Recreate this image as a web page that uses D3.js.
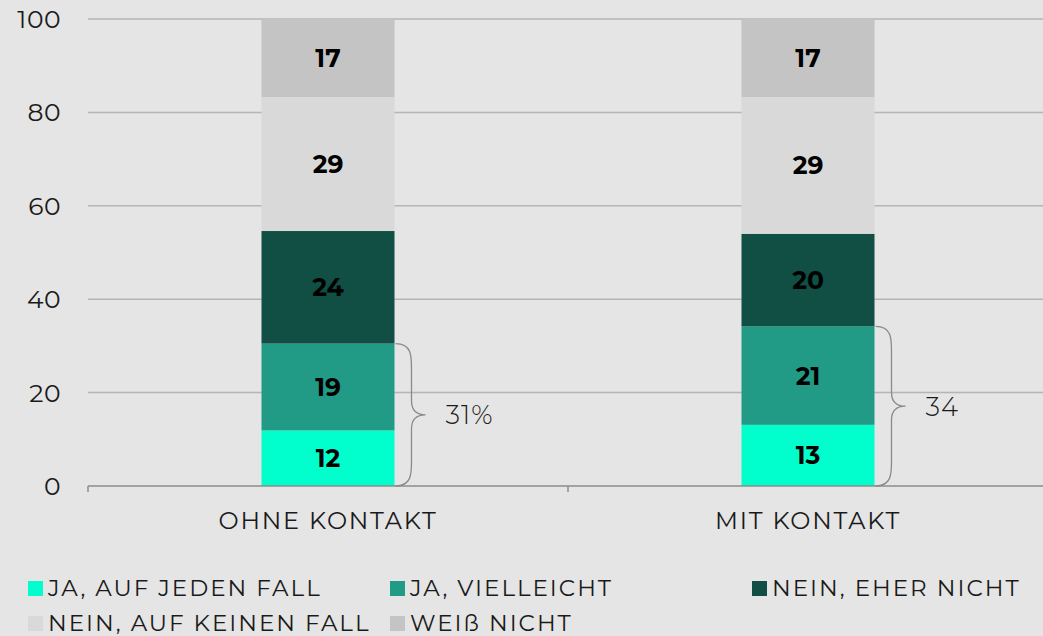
<!DOCTYPE html>
<html>
<head>
<meta charset="utf-8">
<script src="https://cdn.jsdelivr.net/npm/d3@7"></script>
<style>
  body { margin: 0; background: #e5e5e5; }
  svg { display: block; }
  text { font-family: "Montserrat", "Open Sans", sans-serif; fill: #1a1a1a; }
</style>
</head>
<body>
<div id="chart"></div>
<script>
var w = 1043;
var h = 636;

var margin = { top: 19, bottom: 150, left: 88, right: -5 };
var width = w - margin.left - margin.right;
var height = h - margin.top - margin.bottom;

// data
var categories = ["OHNE KONTAKT", "MIT KONTAKT"];
var series = ["JA, AUF JEDEN FALL", "JA, VIELLEICHT", "NEIN, EHER NICHT", "NEIN, AUF KEINEN FALL", "WEIß NICHT"];
var colors = ["#00ffcc", "#219b86", "#114e44", "#d9d9d9", "#c4c4c4"];
var ohneKontakt = [11.9, 18.6, 24.1, 28.7, 16.7];
var mitKontakt = [13.1, 21.1, 19.8, 29.3, 16.7];
var braceLabels = ["31%", "34"];
var yTicks = [0, 20, 40, 60, 80, 100];

var values = [ohneKontakt, mitKontakt];
var rows = categories.map(function (c, i) {
  var row = { cat: c };
  series.forEach(function (s, j) { row[s] = values[i][j]; });
  return row;
});
var stacked = d3.stack().keys(series)(rows);

var x = d3.scaleBand().domain(categories).range([0, width]);
var y = d3.scaleLinear().domain([0, 100]).range([height, 0]);
var color = d3.scaleOrdinal().domain(series).range(colors);
var barW = 133;

var svg = d3.select("#chart").append("svg")
  .attr("width", w)
  .attr("height", h);

var chart = svg.append("g").attr("transform", "translate(" + margin.left + "," + margin.top + ")");

// gridlines
chart.append("g")
  .selectAll("line")
  .data(yTicks.filter(function (d) { return d > 0; }))
  .join("line")
  .attr("x1", 0).attr("x2", width)
  .attr("y1", function (d) { return y(d); })
  .attr("y2", function (d) { return y(d); })
  .style("stroke", "#b5b5b5")
  .style("stroke-width", 1.5);

// y labels
chart.append("g")
  .selectAll("text")
  .data(yTicks)
  .join("text")
  .attr("x", -27)
  .attr("y", function (d) { return y(d); })
  .attr("dy", "0.36em")
  .attr("text-anchor", "end")
  .style("font-size", "25px")
  .style("letter-spacing", "0.5px")
  .text(function (d) { return d; });

// bars
var layers = chart.append("g").selectAll("g")
  .data(stacked)
  .join("g")
  .style("fill", function (d) { return color(d.key); });

layers.selectAll("rect")
  .data(function (d) { return d; })
  .join("rect")
  .attr("x", function (d) { return x(d.data.cat) + x.bandwidth() / 2 - barW / 2; })
  .attr("width", barW)
  .attr("y", function (d) { return y(d[1]); })
  .attr("height", function (d) { return y(d[0]) - y(d[1]); });

layers.selectAll("text")
  .data(function (d) { return d; })
  .join("text")
  .attr("x", function (d) { return x(d.data.cat) + x.bandwidth() / 2; })
  .attr("y", function (d) { return (y(d[0]) + y(d[1])) / 2; })
  .attr("dy", "0.36em")
  .attr("text-anchor", "middle")
  .style("font-size", "25px")
  .style("font-weight", "bold")
  .style("fill", "#000")
  .text(function (d) { return d3.format(".0f")(d[1] - d[0]); });

// x axis
var xAxis = chart.append("g")
  .attr("transform", "translate(0," + height + ")");
xAxis.append("line")
  .attr("x1", 0).attr("x2", width)
  .style("stroke", "#8c8c8c").style("stroke-width", 1.5);
xAxis.selectAll("line.tick")
  .data([0, x.step()])
  .join("line")
  .attr("class", "tick")
  .attr("x1", function (d) { return d; }).attr("x2", function (d) { return d; })
  .attr("y1", 0).attr("y2", 6)
  .style("stroke", "#8c8c8c").style("stroke-width", 1.5);
xAxis.selectAll("text")
  .data(categories)
  .join("text")
  .attr("x", function (d) { return x(d) + x.bandwidth() / 2; })
  .attr("y", 43)
  .attr("text-anchor", "middle")
  .style("font-size", "24px")
  .style("letter-spacing", "1.8px")
  .text(function (d) { return d; });

// braces for the two "ja" segments
categories.forEach(function (c, i) {
  var x0 = x(c) + x.bandwidth() / 2 + barW / 2 + 1;
  var yb = y(0);
  var yt = y(values[i][0] + values[i][1]);
  var ym = (yb + yt) / 2;
  var dx = 16, tip = 30;
  var p = "M" + x0 + "," + yt +
    " C" + (x0 + dx) + "," + yt + " " + (x0 + dx) + "," + (yt + 12) + " " + (x0 + dx) + "," + (yt + 25) +
    " L" + (x0 + dx) + "," + (ym - 14) +
    " C" + (x0 + dx) + "," + (ym - 3) + " " + (x0 + dx + 6) + "," + ym + " " + (x0 + tip) + "," + ym +
    " C" + (x0 + dx + 6) + "," + ym + " " + (x0 + dx) + "," + (ym + 3) + " " + (x0 + dx) + "," + (ym + 14) +
    " L" + (x0 + dx) + "," + (yb - 25) +
    " C" + (x0 + dx) + "," + (yb - 12) + " " + (x0 + dx) + "," + yb + " " + x0 + "," + yb;
  chart.append("path")
    .attr("d", p)
    .style("fill", "none")
    .style("stroke", "#8a8a8a")
    .style("stroke-width", 1.3);
  chart.append("text")
    .attr("x", x0 + 50)
    .attr("y", ym)
    .attr("dy", "0.36em")
    .style("font-size", "26px")
    .style("font-weight", 300)
    .style("letter-spacing", "1px")
    .text(braceLabels[i]);
});

// legend
var legendPos = [[28, 588], [390, 588], [752, 588], [28, 623], [390, 623]];
var legend = svg.append("g").selectAll("g")
  .data(series)
  .join("g")
  .attr("transform", function (d, i) { return "translate(" + legendPos[i][0] + "," + legendPos[i][1] + ")"; });
legend.append("rect")
  .attr("x", 0).attr("y", -7)
  .attr("width", 15).attr("height", 15)
  .style("fill", function (d) { return color(d); });
legend.append("text")
  .attr("x", 20)
  .attr("y", 0)
  .attr("dy", "0.36em")
  .style("font-size", "23px")
  .style("letter-spacing", "2px")
  .text(function (d) { return d; });
</script>
</body>
</html>
